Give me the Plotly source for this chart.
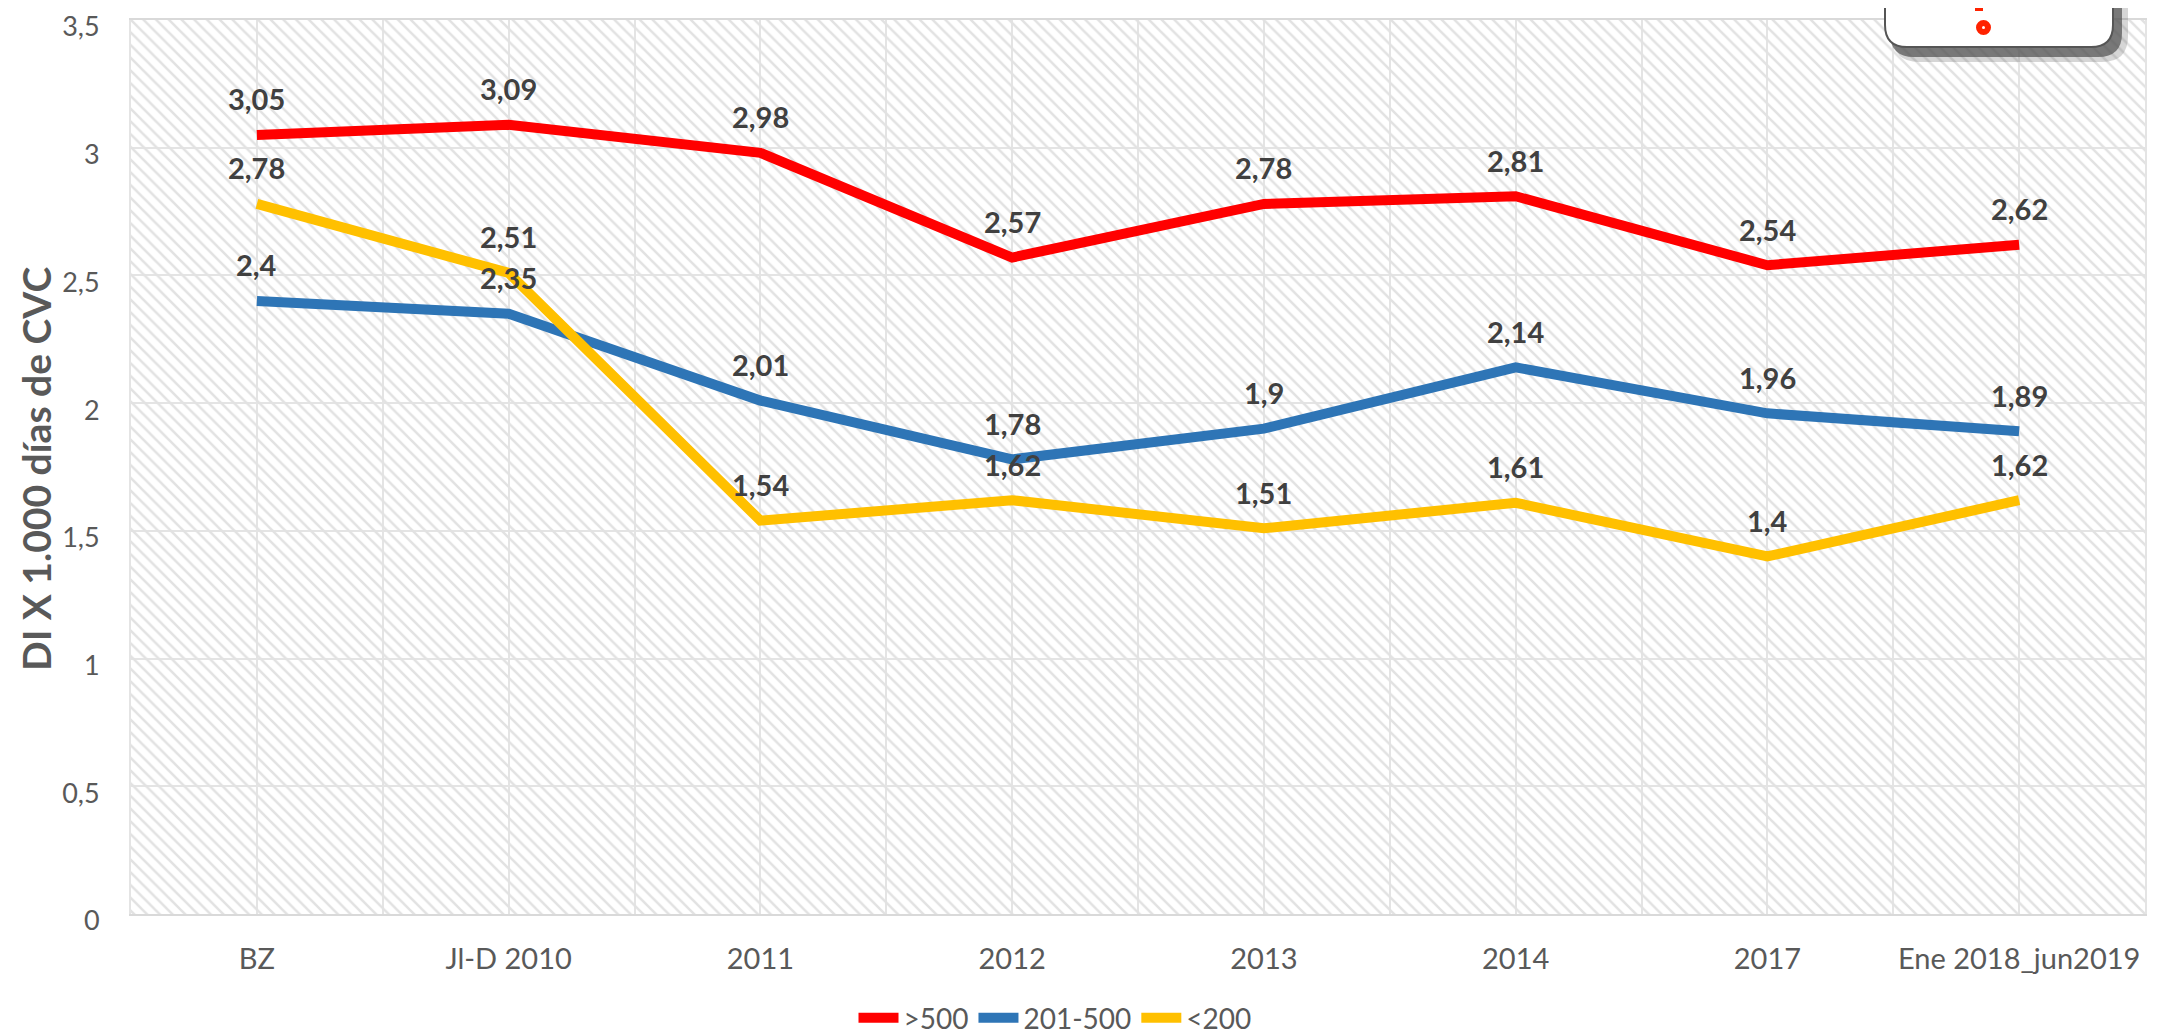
import plotly.graph_objects as go

# ---------------- data ----------------
categories = ["BZ", "Jl-D 2010", "2011", "2012", "2013", "2014", "2017", "Ene 2018_jun2019"]
series_names = [">500", "201-500", "<200"]
values_gt500 = [3.05, 3.09, 2.98, 2.57, 2.78, 2.81, 2.54, 2.62]
values_201_500 = [2.4, 2.35, 2.01, 1.78, 1.9, 2.14, 1.96, 1.89]
values_lt200 = [2.78, 2.51, 1.54, 1.62, 1.51, 1.61, 1.4, 1.62]
y_tick_values = [0, 0.5, 1, 1.5, 2, 2.5, 3, 3.5]
y_title = "DI X 1.000 días de CVC"

# ---------------- styles ----------------
colors = ["#FF0000", "#2E75B6", "#FFC000"]
FONT = "Lato, 'Open Sans', sans-serif"
OFF = 8                      # default body margin of the html page
W, H = 2168, 1060
ML, MT = 123, 12
PW, PH = 2014, 894
MR, MB = W - ML - PW, H - MT - PH
y_min, y_max = y_tick_values[0], y_tick_values[-1]
x_min, x_max = -0.5, len(categories) - 0.5

def fmt(v):
    return f"{v:g}".replace(".", ",")

def px(xp):   # page pixel -> paper x
    return (xp - OFF - ML) / PW

def py(yp):   # page pixel -> paper y
    return 1 - (yp - OFF - MT) / PH

fig = go.Figure()

# hatched plot-area background
fig.add_trace(go.Scatter(
    x=[x_min, x_max, x_max, x_min, x_min],
    y=[y_min, y_min, y_max, y_max, y_min],
    mode="lines", fill="toself",
    fillcolor="rgba(0,0,0,0)",
    fillpattern=dict(shape="\\", fgcolor="#e2e2e2", bgcolor="rgba(255,255,255,0)",
                     size=9, solidity=0.28, fgopacity=1),
    line=dict(width=0), hoverinfo="skip", showlegend=False,
))

all_series = [values_gt500, values_201_500, values_lt200]
xs = list(range(len(categories)))
for name, vals, col in zip(series_names, all_series, colors):
    fig.add_trace(go.Scatter(
        x=xs, y=vals, name=name, mode="lines",
        line=dict(color=col, width=10),
        hoverinfo="skip",
    ))

annotations = []
for vals in all_series:
    for xi, v in zip(xs, vals):
        annotations.append(dict(
            x=xi, y=v, xref="x", yref="y", text=fmt(v), showarrow=False,
            yshift=36, xanchor="center", yanchor="middle",
            font=dict(family=FONT, size=29, color="#404040", weight="bold"),
        ))

# y-axis title
annotations.append(dict(
    x=px(36), y=py(469), xref="paper", yref="paper", text=y_title,
    textangle=-90, showarrow=False, xanchor="center", yanchor="middle",
    font=dict(family=FONT, size=39, color="#595959", weight="bold"),
))

# decorative logo box (top-right, cut off)
def rounded_box(x0, x1, ytop, ybot, r):
    return (f"M {px(x0)},{py(ytop)} L {px(x0)},{py(ybot - r)} "
            f"Q {px(x0)},{py(ybot)} {px(x0 + r)},{py(ybot)} "
            f"L {px(x1 - r)},{py(ybot)} Q {px(x1)},{py(ybot)} {px(x1)},{py(ybot - r)} "
            f"L {px(x1)},{py(ytop)} Z")

shapes = [
    dict(type="path", xref="paper", yref="paper", path=rounded_box(1893, 2128, -20, 62, 26),
         fillcolor="rgba(90,90,90,0.25)", line=dict(width=0), layer="above"),
    dict(type="path", xref="paper", yref="paper", path=rounded_box(1890, 2122, -20, 57, 24),
         fillcolor="rgba(80,80,80,0.7)", line=dict(width=0), layer="above"),
    dict(type="path", xref="paper", yref="paper", path=rounded_box(1885, 2113, -20, 47, 22),
         fillcolor="white", line=dict(color="#555555", width=2), layer="above"),
    dict(type="rect", xref="paper", yref="paper", x0=px(1975), x1=px(1983), y0=py(-5), y1=py(11),
         fillcolor="#FF2200", line=dict(width=0), layer="above"),
    dict(type="rect", xref="paper", yref="paper", x0=px(1983), x1=px(1990), y0=py(-5), y1=py(5),
         fillcolor="#FF2200", line=dict(width=0), layer="above"),
    dict(type="circle", xref="paper", yref="paper", x0=px(1976), x1=px(1991), y0=py(20), y1=py(35),
         fillcolor="#FF2200", line=dict(width=0), layer="above"),
    dict(type="circle", xref="paper", yref="paper", x0=px(1982), x1=px(1985), y0=py(26), y1=py(29),
         fillcolor="white", line=dict(width=0), layer="above"),
]

fig.update_layout(
    width=W, height=H,
    margin=dict(l=ML, r=MR, t=MT, b=MB, pad=0, autoexpand=False),
    paper_bgcolor="white", plot_bgcolor="white",
    separators=",.",
    font=dict(family=FONT, color="#595959", size=27),
    showlegend=True,
    legend=dict(orientation="h", x=px(1055), y=py(1018), xanchor="center", yanchor="middle",
                font=dict(family=FONT, size=28, color="#595959"),
                itemwidth=40, bgcolor="rgba(0,0,0,0)", traceorder="normal"),
    xaxis=dict(
        range=[x_min, x_max], tickmode="array", tickvals=xs, ticktext=categories,
        showgrid=True, gridcolor="#e4e4e4", gridwidth=2,
        minor=dict(tick0=0.5, dtick=1, showgrid=True, gridcolor="#e4e4e4", gridwidth=2),
        showline=True, linecolor="#d9d9d9", linewidth=2, mirror=True,
        zeroline=False, ticks="", ticklabelstandoff=18, automargin=False,
        tickfont=dict(family=FONT, size=29, color="#595959"),
        fixedrange=True,
    ),
    yaxis=dict(
        range=[y_min, y_max], tickmode="array", tickvals=y_tick_values,
        showgrid=True, gridcolor="#e4e4e4", gridwidth=2,
        showline=True, linecolor="#e4e4e4", linewidth=2, mirror=True,
        zeroline=False, ticks="", ticklabelstandoff=24, automargin=False,
        ticklabeloverflow="allow", ticklabelshift=7,
        tickfont=dict(family=FONT, size=27, color="#595959"),
        fixedrange=True,
    ),
    annotations=annotations,
    shapes=shapes,
)

fig.write_html("out.html")
